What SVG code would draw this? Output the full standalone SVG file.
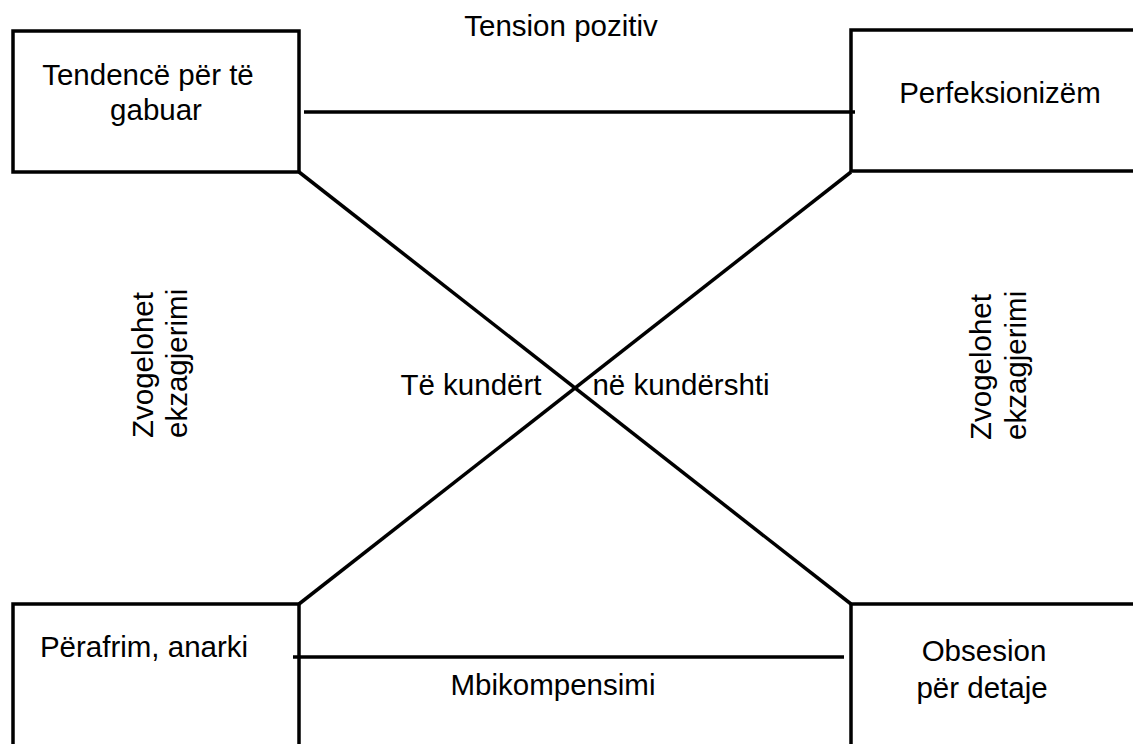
<svg xmlns="http://www.w3.org/2000/svg" width="1133" height="744" viewBox="0 0 1133 744">
<style>
.box{fill:none;stroke:#000;stroke-width:3.5}
.ln{stroke:#000;stroke-width:3.5;fill:none}
text{font-family:"Liberation Sans",Arial,sans-serif;font-size:29.5px;fill:#000}
.c{text-anchor:middle}
</style>
<rect width="1133" height="744" fill="#fff"/>
<g id="connectors">
<line class="ln" x1="299" y1="172" x2="851" y2="604"/>
<line class="ln" x1="299" y1="604" x2="851" y2="172"/>
<line class="ln" x1="304" y1="112" x2="855" y2="112"/>
<line class="ln" x1="293" y1="657" x2="844" y2="657"/>
</g>
<g id="node-tendence">
<rect class="box" x="13" y="31" width="286" height="141"/>
<text class="c" x="148" y="85">Tendencë për të</text>
<text class="c" x="156" y="120">gabuar</text>
</g>
<g id="node-perfeksionizem">
<rect class="box" x="851" y="30" width="300" height="141"/>
<text class="c" x="1000" y="103">Perfeksionizëm</text>
</g>
<g id="node-perafrim">
<rect class="box" x="13" y="604" width="286" height="200"/>
<text class="c" x="144" y="657">Përafrim, anarki</text>
</g>
<g id="node-obsesion">
<rect class="box" x="851" y="604" width="300" height="200"/>
<text class="c" x="984" y="661">Obsesion</text>
<text class="c" x="982" y="698">për detaje</text>
</g>
<g id="labels">
<text class="c" x="561" y="36">Tension pozitiv</text>
<text class="c" x="471" y="395">Të kundërt</text>
<text class="c" x="681" y="395">në kundërshti</text>
<text class="c" x="553" y="695">Mbikompensimi</text>
<text transform="translate(153,438) rotate(-90)">Zvogelohet</text>
<text transform="translate(187,438) rotate(-90)">ekzagjerimi</text>
<text transform="translate(991,440) rotate(-90)">Zvogelohet</text>
<text transform="translate(1026,440) rotate(-90)">ekzagjerimi</text>
</g>
</svg>
